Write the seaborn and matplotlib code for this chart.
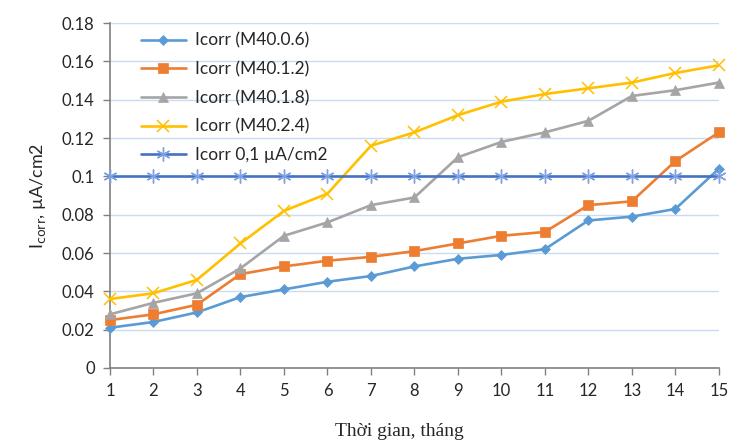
import matplotlib
matplotlib.use("Agg")
import matplotlib.pyplot as plt
import seaborn as sns
import pandas as pd

months = list(range(1, 16))
m40_06 = [0.021, 0.024, 0.029, 0.037, 0.041, 0.045, 0.048, 0.053, 0.057, 0.059, 0.062, 0.077, 0.079, 0.083, 0.104]
m40_12 = [0.025, 0.028, 0.033, 0.049, 0.053, 0.056, 0.058, 0.061, 0.065, 0.069, 0.071, 0.085, 0.087, 0.108, 0.123]
m40_18 = [0.028, 0.034, 0.039, 0.052, 0.069, 0.076, 0.085, 0.089, 0.110, 0.118, 0.123, 0.129, 0.142, 0.145, 0.149]
m40_24 = [0.036, 0.039, 0.046, 0.065, 0.082, 0.091, 0.116, 0.123, 0.132, 0.139, 0.143, 0.146, 0.149, 0.154, 0.158]
ref_01 = [0.1] * 15
series_names = ["Icorr (M40.0.6)", "Icorr (M40.1.2)", "Icorr (M40.1.8)", "Icorr (M40.2.4)", "Icorr 0,1 µA/cm2"]
y_ticks = [0, 0.02, 0.04, 0.06, 0.08, 0.1, 0.12, 0.14, 0.16, 0.18]
y_tick_labels = ["0", "0.02", "0.04", "0.06", "0.08", "0.1", "0.12", "0.14", "0.16", "0.18"]

sns.set_style("white")
plt.rcParams["font.family"] = ["Lato", "DejaVu Sans"]

fig = plt.figure(figsize=(7.3, 4.46), dpi=100)
ax = fig.add_axes([0.1507, 0.175, 0.834, 0.773])

styles = [
    dict(color="#5B9BD5", marker="D", markersize=5.5),
    dict(color="#ED7D31", marker="s", markersize=6.5),
    dict(color="#A5A5A5", marker="^", markersize=7),
    dict(color="#FFC000", marker="x", markersize=8, markeredgewidth=1.1),
    dict(color="#4472C4", marker=(6, 2, 0), markersize=10, markeredgewidth=1.0),
]
data = [m40_06, m40_12, m40_18, m40_24, ref_01]
for name, vals, st in zip(series_names, data, styles):
    df = pd.DataFrame({"month": months, "val": vals})
    mec = st["color"]
    if st["marker"] == (6, 2, 0):
        mec = "#7F9FE0"
    sns.lineplot(data=df, x="month", y="val", ax=ax, label=name, color=st["color"],
                 marker=st["marker"], markersize=st["markersize"],
                 markeredgecolor=mec, markeredgewidth=st.get("markeredgewidth", 0.5),
                 linewidth=1.9, clip_on=False, zorder=3)

ax.set_xlim(1, 15)
ax.set_ylim(0, 0.18)
ax.set_xticks(months)
ax.set_xticklabels([str(m) for m in months], fontsize=12)
ax.set_yticks(y_ticks)
ax.set_yticklabels(y_tick_labels, fontsize=12)
ax.yaxis.grid(True, color="#C9DCF2", linewidth=1)
ax.xaxis.grid(False)
for s in ["top", "right"]:
    ax.spines[s].set_visible(False)
for s in ["left", "bottom"]:
    ax.spines[s].set_color("#808080")
    ax.spines[s].set_linewidth(1.2)
ax.tick_params(axis="both", which="both", direction="out", length=5, color="#808080", width=1,
               bottom=True, left=True, pad=6)

ax.set_xlabel("Thời gian, tháng", fontsize=14, family=["Liberation Serif"], labelpad=18)
ax.xaxis.set_label_coords(0.475, -0.16)
ax.set_ylabel(r"I$_{\mathrm{corr}}$, µA/cm2", fontsize=13, labelpad=10)

leg = ax.legend(loc="upper left", bbox_to_anchor=(0.035, 1.0), frameon=False, fontsize=12.5,
                handlelength=2.6, handletextpad=0.5, labelspacing=0.72, borderaxespad=0.15)

fig.savefig("out.png", dpi=100)
